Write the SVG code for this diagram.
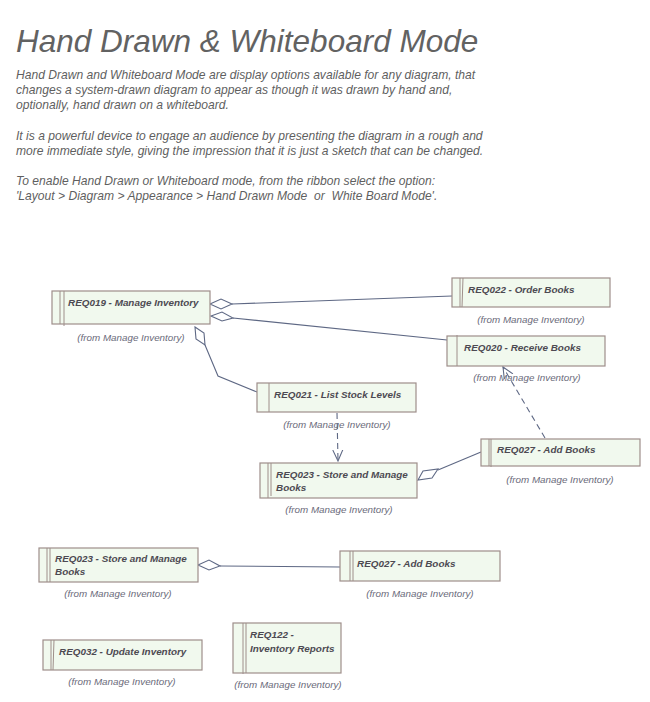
<svg xmlns="http://www.w3.org/2000/svg" width="650" height="702" viewBox="0 0 650 702">
<style>
.title{font-family:"Liberation Sans",Arial,sans-serif;font-style:italic;font-size:31.5px;fill:#626262}
.body{font-family:"Liberation Sans",Arial,sans-serif;font-style:italic;font-size:12.1px;fill:#5f5f5f;white-space:pre}
.box{fill:#f1f9ee;stroke:#9e8e8a;stroke-width:1.2}
.band{fill:none;stroke:#9e8e8a;stroke-width:1}
.lbl{font-family:"Liberation Sans",Arial,sans-serif;font-style:italic;font-weight:bold;font-size:9.9px;fill:#4d4a52}
.from{font-family:"Liberation Sans",Arial,sans-serif;font-style:italic;font-size:9.8px;fill:#6a6a7a;text-anchor:middle}
.con{fill:none;stroke:#5e6884;stroke-width:1.1}
.dash{fill:none;stroke:#5e6884;stroke-width:1.1;stroke-dasharray:6 4}
.dia{fill:#ffffff;stroke:#5e6884;stroke-width:1.1}
</style>
<defs>
<marker id="open" viewBox="0 0 12 12" refX="11" refY="6" markerWidth="12" markerHeight="12" markerUnits="userSpaceOnUse" orient="auto">
<path d="M0,1 L11,6 L0,11" fill="none" stroke="#5e6884" stroke-width="1.1"/>
</marker>
</defs>

<text class="title" x="16" y="52">Hand Drawn &amp; Whiteboard Mode</text>
<text class="body" x="16" y="79">Hand Drawn and Whiteboard Mode are display options available for any diagram, that</text>
<text class="body" x="16" y="94">changes a system-drawn diagram to appear as though it was drawn by hand and,</text>
<text class="body" x="16" y="109">optionally, hand drawn on a whiteboard.</text>
<text class="body" x="16" y="140">It is a powerful device to engage an audience by presenting the diagram in a rough and</text>
<text class="body" x="16" y="155">more immediate style, giving the impression that it is just a sketch that can be changed.</text>
<text class="body" x="16" y="185">To enable Hand Drawn or Whiteboard mode, from the ribbon select the option:</text>
<text class="body" x="16" y="200" xml:space="preserve">'Layout &gt; Diagram &gt; Appearance &gt; Hand Drawn Mode  or  White Board Mode'.</text>

<g id="connectors">
<path class="con" d="M232,304 L452,296"/>
<polygon class="dia" points="210,304 221,299 232,304 221,309"/>
<path class="con" d="M233,318 L447,340"/>
<polygon class="dia" points="211,316 222,312 233,318 222,321"/>
<path class="con" d="M205,345 L218,376 L257,392"/>
<polygon class="dia" points="195,327 204,333 205,345 196,339"/>
<path class="dash" d="M337,413 L338,461" marker-end="url(#open)"/>
<path class="dash" d="M545,438 L503,367" marker-end="url(#open)"/>
<path class="con" d="M438,470 L481,452"/>
<polygon class="dia" points="418,480 423,471 438,469 432,478"/>
<path class="con" d="M220,566 L340,567"/>
<polygon class="dia" points="198,565 209,560 220,566 209,570"/>
</g>

<g id="REQ019">
<rect class="box" x="52" y="291" width="158" height="33"/>
<path class="band" d="M60,291 L60,324 M64,291 L64,326"/>
<text class="lbl" x="68" y="306">REQ019 - Manage Inventory</text>
<text class="from" x="131" y="341">(from Manage Inventory)</text>
</g>

<g id="REQ022">
<rect class="box" x="452" y="278" width="158" height="29"/>
<path class="band" d="M460,278 L460,307 M463,278 L462,307"/>
<text class="lbl" x="468" y="293">REQ022 - Order Books</text>
<text class="from" x="531" y="323">(from Manage Inventory)</text>
</g>

<g id="REQ020">
<rect class="box" x="447" y="336" width="158" height="30"/>
<path class="band" d="M457,335 L457,366"/>
<text class="lbl" x="464" y="351">REQ020 - Receive Books</text>
<text class="from" x="527" y="381">(from Manage Inventory)</text>
</g>

<g id="REQ021">
<rect class="box" x="257" y="383" width="159" height="29"/>
<path class="band" d="M269,383 L269,412"/>
<text class="lbl" x="274" y="398">REQ021 - List Stock Levels</text>
<text class="from" x="337" y="428">(from Manage Inventory)</text>
</g>

<g id="REQ023a">
<rect class="box" x="260" y="463" width="157" height="35"/>
<path class="band" d="M268,463 L268,498 M271,463 L271,496"/>
<text class="lbl" x="276" y="478">REQ023 - Store and Manage</text>
<text class="lbl" x="276" y="491">Books</text>
<text class="from" x="339" y="513">(from Manage Inventory)</text>
</g>

<g id="REQ027a">
<rect class="box" x="481" y="439" width="159" height="27"/>
<path class="band" d="M489,439 L489,466 M491,439 L491,467"/>
<text class="lbl" x="497" y="453">REQ027 - Add Books</text>
<text class="from" x="560" y="483">(from Manage Inventory)</text>
</g>

<g id="REQ023b">
<rect class="box" x="39" y="548" width="159" height="34"/>
<path class="band" d="M47,548 L47,582 M50,548 L50,582"/>
<text class="lbl" x="55" y="562">REQ023 - Store and Manage</text>
<text class="lbl" x="55" y="575">Books</text>
<text class="from" x="118" y="597">(from Manage Inventory)</text>
</g>

<g id="REQ027b">
<rect class="box" x="340" y="551" width="160" height="30"/>
<path class="band" d="M350,551 L350,581 M353,551 L353,581"/>
<text class="lbl" x="357" y="567">REQ027 - Add Books</text>
<text class="from" x="420" y="597">(from Manage Inventory)</text>
</g>

<g id="REQ032">
<rect class="box" x="43" y="640" width="159" height="30"/>
<path class="band" d="M51,640 L51,670 M54,640 L53,670"/>
<text class="lbl" x="59" y="655">REQ032 - Update Inventory</text>
<text class="from" x="122" y="685">(from Manage Inventory)</text>
</g>

<g id="REQ122">
<rect class="box" x="233" y="623" width="108" height="50"/>
<path class="band" d="M243,623 L243,674 M246,623 L246,673"/>
<text class="lbl" x="250" y="638">REQ122 -</text>
<text class="lbl" x="250" y="652">Inventory Reports</text>
<text class="from" x="288" y="688">(from Manage Inventory)</text>
</g>
</svg>
